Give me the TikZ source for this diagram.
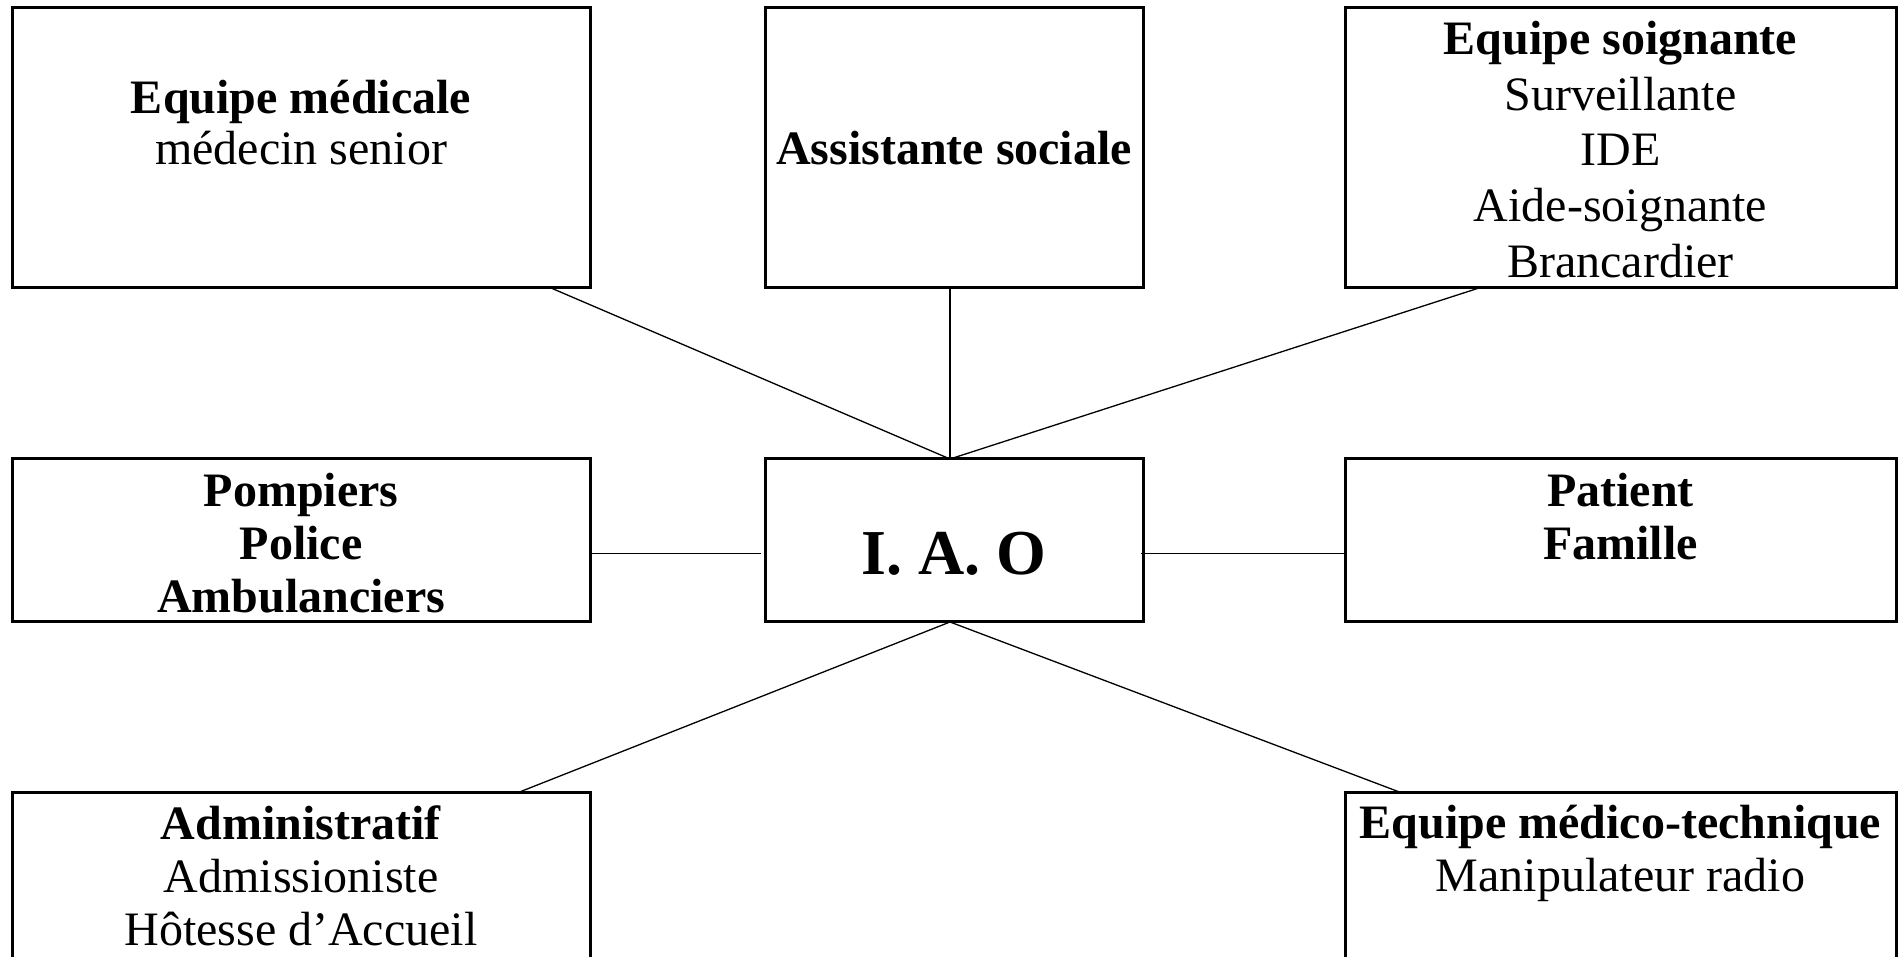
\documentclass[tikz,border=0pt]{standalone}
\usepackage{fontspec}
\setmainfont{Liberation Serif}
\usetikzlibrary{positioning}

\begin{document}
\begin{tikzpicture}[x=0.5pt, y=0.5pt,
    boite/.style={draw, line width=1.5pt, outer sep=0pt, inner sep=0pt},
    texte/.style={inner sep=0pt, align=center, font=\fontsize{24}{26.5}\selectfont},
    lien/.style={line width=0.65pt}]

    \useasboundingbox (0,0) rectangle (1898,957);
    \clip (0,0) rectangle (1898,957);

    % Rangee du haut
    \node[boite, minimum width=289pt, minimum height=140pt] (medicale) at (301,809) {};
    \node[boite, minimum width=189pt, minimum height=140pt] (sociale) at (954,809) {};
    \node[boite, minimum width=275.5pt, minimum height=140pt] (soignante) at (1620.5,809) {};

    % Rangee du milieu
    \node[boite, minimum width=289pt, minimum height=81.5pt] (secours) at (301,416.5) {};
    \node[boite, minimum width=189pt, minimum height=81.5pt] (iao) at (954,416.5) {};
    \node[boite, minimum width=275.5pt, minimum height=81.5pt] (patient) at (1620.5,416.5) {};

    % Rangee du bas (coupee par le bord)
    \node[boite, minimum width=289pt, minimum height=112pt] (admin) at (301,52) {};
    \node[boite, minimum width=275.5pt, minimum height=112pt] (technique) at (1620.5,52) {};

    % Textes des boites
    \node[texte, font=\fontsize{24}{25.5}\selectfont, below=36pt of medicale.north] (t-medicale)
        {\textbf{Equipe médicale}\\médecin senior};
    \node[texte] (t-sociale) at (sociale) {\textbf{Assistante sociale}};
    \node[texte, font=\fontsize{24}{27.8}\selectfont, below=6.5pt of soignante.north] (t-soignante)
        {\textbf{Equipe soignante}\\Surveillante\\IDE\\Aide-soignante\\Brancardier};
    \node[texte, below=7pt of secours.north] (t-secours) {\textbf{Pompiers}\\\textbf{Police}\\\textbf{Ambulanciers}};
    \node[texte, font=\bfseries\fontsize{32}{36}\selectfont, yshift=-6.5pt] (t-iao) at (iao) {I. A. O};
    \node[texte, below=7pt of patient.north] (t-patient) {\textbf{Patient}\\\textbf{Famille}};
    \node[texte, below=6pt of admin.north] (t-admin) {\textbf{Administratif}\\Admissioniste\\Hôtesse d’Accueil};
    \node[texte, below=6pt of technique.north] (t-technique) {\textbf{Equipe médico-technique}\\Manipulateur radio};

    % Liens vers l'I.A.O
    \draw[lien] ([xshift=-19.5pt]medicale.south east) -- ([xshift=-2pt]iao.north);
    \draw[lien] ([xshift=-2pt]sociale.south) -- ([xshift=-2pt]iao.north);
    \draw[lien] ([xshift=67pt]soignante.south west) -- ([xshift=-2pt]iao.north);
    \draw[lien] ([yshift=-6.5pt]secours.east) -- ([xshift=-2pt,yshift=-6.5pt]iao.west);
    \draw[lien] ([xshift=-1pt,yshift=-6.5pt]iao.east) -- ([yshift=-6.5pt]patient.west);
    \draw[lien] ([xshift=-2pt]iao.south) -- ([xshift=-36.5pt]admin.north east);
    \draw[lien] ([xshift=-2pt]iao.south) -- ([xshift=28.5pt]technique.north west);
\end{tikzpicture}
\end{document}
